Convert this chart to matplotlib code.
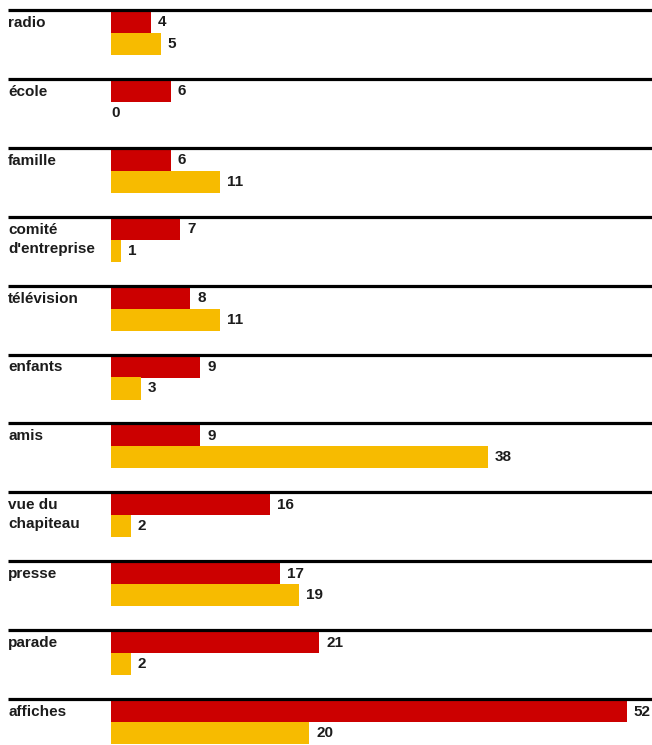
import matplotlib.pyplot as plt

plt.rcParams['font.family'] = ['Liberation Sans', 'DejaVu Sans']

categories = ['radio', 'école', 'famille', "comité\nd'entreprise", 'télévision',
              'enfants', 'amis', 'vue du\nchapiteau', 'presse', 'parade', 'affiches']
red_values = [4, 6, 6, 7, 8, 9, 9, 16, 17, 21, 52]
yellow_values = [5, 0, 11, 1, 11, 3, 38, 2, 19, 2, 20]

RED = '#cc0000'
YELLOW = '#f7bb00'
INK = '#1c1c1c'

W, H = 652, 745
px_per_unit = 9.92
x0 = 111          # pixel where bars start
pitch = 68.9      # pixels between groups
y_top = 10        # pixel of first rule

fig = plt.figure(figsize=(W / 100, H / 100), dpi=100)
ax = fig.add_axes([0, 0, 1, 1])
ax.set_xlim(-x0 / px_per_unit, (W - x0) / px_per_unit)
ax.set_ylim((H - y_top) / pitch, -y_top / pitch)
ax.axis('off')

n = len(categories)
ys = list(range(n))
u = 1 / pitch  # one pixel in y units
red_c = [y + 12.5 * u for y in ys]
yel_c = [y + 34 * u for y in ys]

ax.hlines(ys, -103 / px_per_unit, (W - x0) / px_per_unit, color='black', lw=2.3)
ax.barh(red_c, red_values, height=21 * u, color=RED, left=0)
ax.barh(yel_c, yellow_values, height=22 * u, color=YELLOW, left=0)

off = 7 / px_per_unit
for y, lab in zip(ys, categories):
    ax.text(-103 / px_per_unit, y + 6 * u, lab, ha='left', va='top', color=INK,
            fontsize=11, fontweight='bold', linespacing=1.45)
for yc, v in zip(red_c, red_values):
    ax.text(v + (off if v else 0), yc, str(v), ha='left', va='center', color=INK,
            fontsize=11, fontweight='bold')
for yc, v in zip(yel_c, yellow_values):
    ax.text(v + (off if v else 0), yc, str(v), ha='left', va='center', color=INK,
            fontsize=11, fontweight='bold')

fig.savefig('out.png', dpi=100)
